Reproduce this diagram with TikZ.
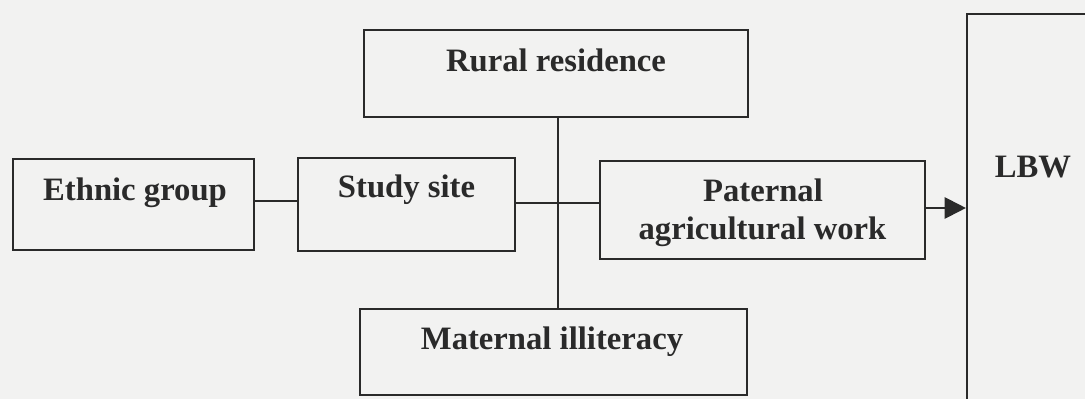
\documentclass[tikz,border=0pt]{standalone}
\usepackage{fontspec}
\setmainfont{Liberation Serif}
\usetikzlibrary{arrows.meta}
\definecolor{bg}{HTML}{F2F2F1}
\definecolor{ink}{HTML}{2A2A2A}
\begin{document}
\begin{tikzpicture}[x=0.75pt,y=-0.75pt,
  box/.style={draw=ink,line width=1.6pt,rectangle,inner sep=0pt},
  lab/.style={anchor=base,font=\fontsize{24.5pt}{27pt}\selectfont\bfseries,text=ink,inner sep=0pt,align=center},
  conn/.style={draw=ink,line width=1.5pt}]
\fill[bg] (0,0) rectangle (1085,399);
\useasboundingbox (0,0) rectangle (1085,399);
\clip (0,0) rectangle (1085,399);
% boxes
\node[box,minimum width=241*0.75pt,minimum height=91*0.75pt] (eth) at (133.5,204.5) {};
\node[box,minimum width=217*0.75pt,minimum height=93*0.75pt] (site) at (406.5,204.5) {};
\node[box,minimum width=384*0.75pt,minimum height=87*0.75pt] (rural) at (556,73.5) {};
\node[box,minimum width=387*0.75pt,minimum height=86*0.75pt] (mat) at (553.5,352) {};
\node[box,minimum width=325*0.75pt,minimum height=98*0.75pt] (pat) at (762.5,210) {};
\node[box,minimum width=160*0.75pt,minimum height=420*0.75pt] (lbw) at (1047,224) {};
% labels
\node[lab] (ethT) at (135,200) {Ethnic group};
\node[lab] (siteT) at (406.5,198) {Study site};
\node[lab] (ruralT) at (556,72) {Rural residence};
\node[lab] (matT) at (552,349) {Maternal illiteracy};
\node[lab] (patT1) at (763,201) {Paternal};
\node[lab] (patT2) at (762.5,239) {agricultural work};
\node[lab] (lbwT) at (1033,178) {LBW};
% connectors
\coordinate (e1) at (eth.east |- 0,201);
\draw[conn] (e1) -- (e1 -| site.west);
\coordinate (s1) at (site.east |- 0,203);
\draw[conn] (s1) -- (s1 -| pat.west);
\coordinate (r1) at (rural.south -| 557.5,0);
\draw[conn] (r1) -- (r1 |- mat.north);
\coordinate (p1) at (pat.east |- 0,208);
\draw[conn,-{Triangle[length=16pt,width=16pt]}] (p1) -- (p1 -| lbw.west);
\end{tikzpicture}
\end{document}
